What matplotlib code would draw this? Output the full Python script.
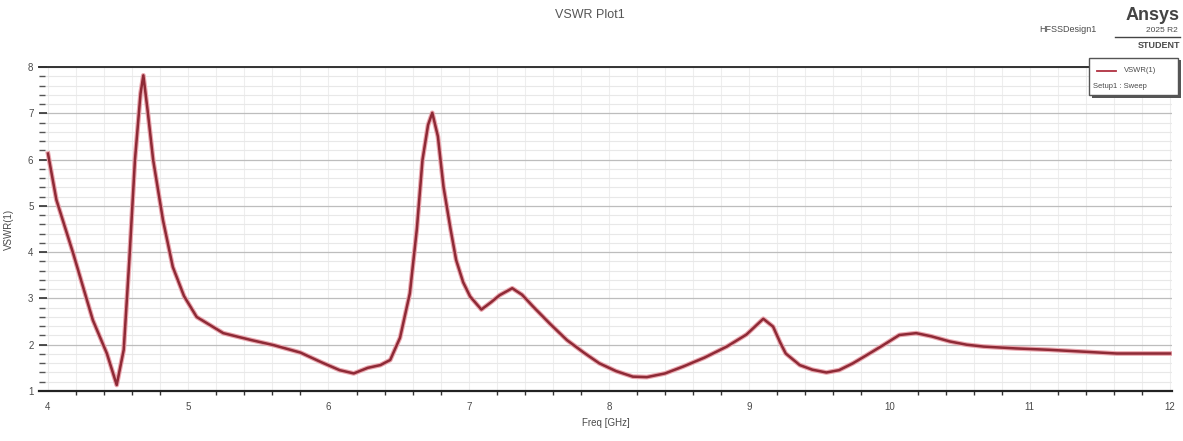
import numpy as np
import matplotlib
matplotlib.use("Agg")
import matplotlib.pyplot as plt
from matplotlib.patches import Rectangle
from matplotlib.lines import Line2D

plt.rcParams['font.family'] = ['Liberation Sans', 'DejaVu Sans']

# VSWR(1)
freq_ghz = [4.00, 4.06, 4.18, 4.32, 4.42, 4.49, 4.54, 4.58, 4.62, 4.66, 4.68,
            4.71, 4.75, 4.82, 4.89, 4.97, 5.06, 5.25, 5.45, 5.61, 5.80, 5.95,
            6.08, 6.18, 6.28, 6.37, 6.44, 6.51, 6.58, 6.63, 6.67, 6.71, 6.74,
            6.78, 6.82, 6.87, 6.91, 6.96, 7.01, 7.09, 7.16, 7.22, 7.31, 7.38,
            7.46, 7.58, 7.70, 7.82, 7.93, 8.05, 8.17, 8.27, 8.40, 8.53, 8.68,
            8.84, 8.98, 9.10, 9.17, 9.22, 9.26, 9.36, 9.45, 9.55, 9.64, 9.74,
            9.84, 9.96, 10.07, 10.19, 10.30, 10.43, 10.55, 10.67, 10.90,
            11.14, 11.38, 11.62, 11.85, 12.00]
vswr = [6.13, 5.13, 3.97, 2.53, 1.81, 1.13, 1.89, 3.83, 5.99, 7.43, 7.82,
        7.07, 5.99, 4.69, 3.68, 3.05, 2.60, 2.25, 2.10, 1.99, 1.83, 1.62,
        1.45, 1.38, 1.50, 1.56, 1.67, 2.15, 3.11, 4.50, 5.99, 6.75, 7.01,
        6.50, 5.41, 4.50, 3.83, 3.35, 3.04, 2.76, 2.92, 3.07, 3.22, 3.08,
        2.82, 2.45, 2.10, 1.83, 1.60, 1.43, 1.31, 1.30, 1.38, 1.53, 1.72,
        1.96, 2.22, 2.56, 2.39, 2.05, 1.81, 1.56, 1.46, 1.40, 1.45, 1.60,
        1.78, 2.00, 2.21, 2.25, 2.18, 2.07, 2.00, 1.96, 1.92,
        1.89, 1.85, 1.81, 1.81, 1.81]

x_major = [4, 5, 6, 7, 8, 9, 10, 11, 12]
y_major = [1, 2, 3, 4, 5, 6, 7, 8]

txt = '#4a4a4a'

fig = plt.figure(figsize=(11.83, 4.41), dpi=100)
ax = fig.add_axes([39/1183, 50/441, (1172-39)/1183, (391-67)/441])

ax.set_xlim(3.936, 12.014)
ax.set_ylim(1, 8)

ax.set_xticks(x_major)
ax.set_yticks(y_major)
ax.set_xticks(np.arange(4, 12.01, 0.2), minor=True)
ax.set_yticks(np.arange(1, 8.01, 0.2), minor=True)

ax.grid(which='minor', axis='x', color='#eeeeee', lw=0.8)
ax.grid(which='minor', axis='y', color='#e8e8e8', lw=0.8)
ax.grid(which='major', axis='y', color='#bdbdbd', lw=0.9)
ax.grid(which='major', axis='x', color='#eeeeee', lw=0.8)
ax.set_axisbelow(True)

for s in ['left', 'right']:
    ax.spines[s].set_visible(False)
ax.spines['top'].set_color('#333333')
ax.spines['bottom'].set_color('#222222')
ax.spines['top'].set_linewidth(1.4)
ax.spines['bottom'].set_linewidth(1.6)

ax.tick_params(axis='y', which='both', direction='in', length=6, width=1.2,
               color='#333333', labelsize=7, labelcolor=txt, pad=4)
ax.tick_params(axis='y', which='minor', length=4, width=1.0, color='#555555')
ax.tick_params(axis='x', which='both', direction='out', length=3, width=1.0,
               color='#333333', labelsize=7, labelcolor=txt, pad=8)
ax.tick_params(axis='x', which='major', length=0)

ax.plot(freq_ghz, vswr, color='#eaa6ae', lw=3.4, solid_joinstyle='round', zorder=3)
ax.plot(freq_ghz, vswr, color='#8e2a36', lw=1.8, solid_joinstyle='round', zorder=4)

ax.set_xlabel('Freq [GHz]', fontsize=7, color=txt, labelpad=4)
ax.set_ylabel('VSWR(1)', fontsize=7, color=txt, labelpad=10)

fig.text(590/1183, 1 - 15/441, 'VSWR Plot1', ha='center', va='center',
         fontsize=9, color='#555555')
fig.text(1068/1183, 1 - 30/441, 'HFSSDesign1', ha='center', va='center',
         fontsize=6.5, color=txt)
fig.text(1180/1183, 1 - 15/441, 'Ansys', ha='right', va='center',
         fontsize=13, fontweight='bold', color='#444444')
fig.text(1178/1183, 1 - 30/441, '2025 R2', ha='right', va='center',
         fontsize=6, color=txt)
fig.add_artist(Line2D([1115/1183, 1180/1183], [1 - 37/441, 1 - 37/441],
                      color='#444444', lw=1.0, transform=fig.transFigure))
fig.text(1180/1183, 1 - 45/441, 'STUDENT', ha='right', va='center',
         fontsize=6.5, fontweight='bold', color=txt)

# legend box with shadow
fig.add_artist(Rectangle((1092/1183, 1 - 98/441), 89/1183, 38/441,
                         transform=fig.transFigure, facecolor='#555555',
                         edgecolor='none', zorder=5))
fig.add_artist(Rectangle((1089/1183, 1 - 95/441), 89/1183, 37/441,
                         transform=fig.transFigure, facecolor='white',
                         edgecolor='#555555', lw=1.0, zorder=6))
fig.add_artist(Line2D([1097/1183, 1116/1183], [1 - 71/441, 1 - 71/441],
                      color='#b03040', lw=1.3, transform=fig.transFigure, zorder=7))
fig.text(1124/1183, 1 - 71/441, 'VSWR(1)', ha='left', va='center',
         fontsize=5.5, color=txt, zorder=7)
fig.text(1093/1183, 1 - 86/441, 'Setup1 : Sweep', ha='left', va='center',
         fontsize=5.5, color=txt, zorder=7)

fig.savefig('out.png', dpi=100)
